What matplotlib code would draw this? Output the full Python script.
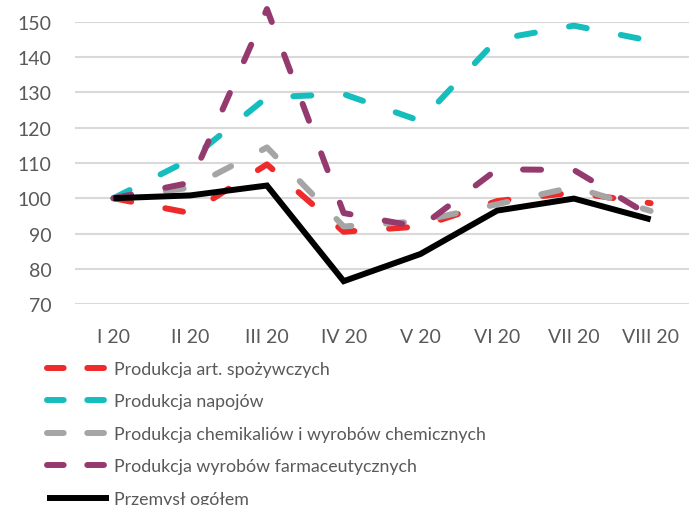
import matplotlib
matplotlib.use("Agg")
import matplotlib.pyplot as plt

plt.rcParams['font.family'] = ['Lato', 'DejaVu Sans']
plt.rcParams['lines.scale_dashes'] = False

months = ["I 20", "II 20", "III 20", "IV 20", "V 20", "VI 20", "VII 20", "VIII 20"]

spozywcze = [100, 95.8, 109.6, 90.5, 92.0, 99.2, 101.6, 98.6]
napoje = [100, 111.0, 128.6, 129.5, 121.9, 145.0, 148.9, 144.6]
chemikalia = [100, 103.0, 114.4, 92.0, 93.5, 98.3, 103.2, 96.4]
farmacja = [100, 104.4, 153.6, 95.8, 91.8, 108.2, 108.0, 95.0]
przemysl = [100, 100.8, 103.6, 76.5, 84.2, 96.5, 99.9, 94.0]

labels = ["Produkcja art. spożywczych", "Produkcja napojów",
          "Produkcja chemikaliów i wyrobów chemicznych",
          "Produkcja wyrobów farmaceutycznych", "Przemysł ogółem"]
colors = ["#ee2a2a", "#16bdbd", "#a5a5a5", "#953a6e", "#000000"]
series = [spozywcze, napoje, chemikalia, farmacja, przemysl]

fig = plt.figure(figsize=(6.89, 5.06), dpi=100)
ax = fig.add_axes([0.109, 0.397, 0.891, 0.558])

x = list(range(len(months)))
lines = []
for vals, col, lab in zip(series, colors, labels):
    if col == "#000000":
        ln, = ax.plot(x, vals, color=col, lw=4.3, label=lab,
                      solid_capstyle='butt', solid_joinstyle='miter', clip_on=False, zorder=5)
    else:
        ln, = ax.plot(x, vals, color=col, lw=4.3, label=lab, dashes=(13, 25),
                      dash_capstyle='round', clip_on=False, zorder=3)
    lines.append(ln)

ax.set_xlim(-0.5, len(months) - 0.5)
ax.set_ylim(70, 150)
ax.set_yticks(range(70, 151, 10))
ax.set_xticks(x)
ax.set_xticklabels(months)
ax.grid(axis='y', color='#d9d9d9', lw=1.5)
ax.set_axisbelow(True)
for s in ax.spines.values():
    s.set_visible(False)
ax.tick_params(axis='both', length=0, labelsize=14, labelcolor='#595959')
ax.tick_params(axis='x', pad=17)
ax.tick_params(axis='y', pad=17)

leg = fig.legend(handles=lines, loc='upper left', bbox_to_anchor=(0.068, 0.285),
                 frameon=False, fontsize=12.8, handlelength=3.5, handletextpad=0.3,
                 labelspacing=0.93, borderaxespad=0, borderpad=0, labelcolor='#595959')
for h in leg.legend_handles:
    if h.get_color() != "#000000":
        h.set_dashes((12, 17))
        h.set_dash_capstyle('round')

fig.savefig("out.png", dpi=100)
